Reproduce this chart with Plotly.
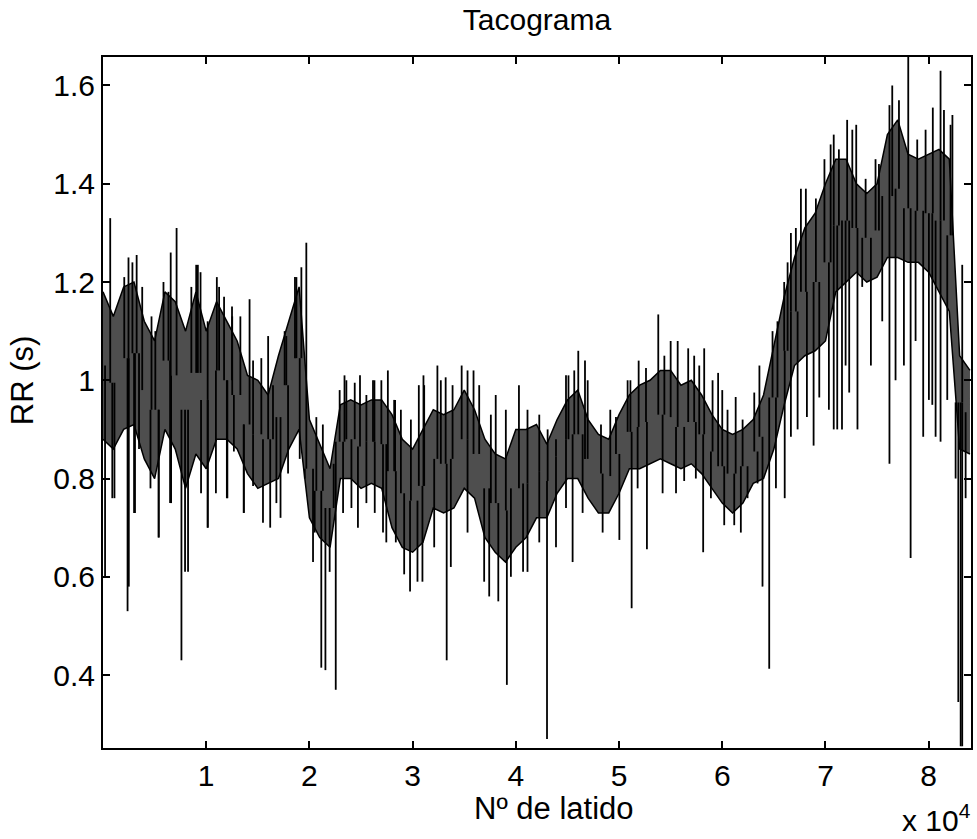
import plotly.graph_objects as go

# ---------------- data ----------------
# dense band of the tachogram, sampled every 1000 beats: upper and lower edge (s)
band_beats = [i * 1000 for i in range(85)]
band_hi = [1.18, 1.13, 1.19, 1.20, 1.12, 1.08, 1.18, 1.16, 1.10, 1.18,
           1.10, 1.16, 1.12, 1.08, 1.01, 1.00, 0.97, 1.05, 1.12, 1.19,
           0.92, 0.87, 0.82, 0.95, 0.96, 0.95, 0.96, 0.96, 0.93, 0.88,
           0.86, 0.90, 0.94, 0.93, 0.94, 0.98, 0.94, 0.88, 0.85, 0.84,
           0.90, 0.90, 0.91, 0.87, 0.92, 0.96, 0.98, 0.92, 0.89, 0.88,
           0.93, 0.97, 0.99, 1.00, 1.02, 1.02, 0.99, 1.00, 0.97, 0.93,
           0.90, 0.89, 0.90, 0.92, 0.97, 1.07, 1.17, 1.25, 1.31, 1.34,
           1.40, 1.45, 1.45, 1.40, 1.38, 1.40, 1.50, 1.53, 1.46, 1.45,
           1.46, 1.47, 1.45, 1.05, 1.02]
band_lo = [0.88, 0.86, 0.90, 0.91, 0.84, 0.80, 0.90, 0.86, 0.78, 0.85,
           0.82, 0.88, 0.88, 0.86, 0.81, 0.78, 0.79, 0.80, 0.86, 0.90,
           0.72, 0.68, 0.66, 0.80, 0.80, 0.78, 0.79, 0.78, 0.70, 0.66,
           0.65, 0.67, 0.74, 0.73, 0.74, 0.78, 0.76, 0.68, 0.65, 0.63,
           0.66, 0.68, 0.72, 0.72, 0.77, 0.80, 0.80, 0.76, 0.73, 0.73,
           0.77, 0.82, 0.82, 0.83, 0.84, 0.83, 0.82, 0.83, 0.81, 0.78,
           0.75, 0.73, 0.75, 0.79, 0.80, 0.86, 0.95, 1.03, 1.05, 1.06,
           1.08, 1.18, 1.20, 1.22, 1.20, 1.21, 1.25, 1.25, 1.24, 1.24,
           1.22, 1.18, 1.14, 0.86, 0.85]

# upward beats sticking out of the band (beat number, RR in s)
up_beats = [700, 2060, 2470, 2850, 3260, 3800, 4700, 5070, 5860, 6340, 6560, 7130,
            8560, 9030, 9190, 9450, 10140, 11030, 11250, 11730, 12500, 12520, 13310,
            14200, 14540, 15340, 16000, 16470, 17600, 17760, 18600, 18740, 19220, 19700,
            20670, 21300, 22350, 22930, 23400, 23580, 24390, 24900, 25520, 26160, 26300,
            26970, 27600,
            28210, 28300, 28860, 29830, 30600, 31050, 31120, 32400, 32730, 33200, 33870,
            34750, 35320, 35900, 36450, 37580, 38050, 39030, 40300, 41130,
            42270, 43080, 43890, 44860, 45100, 45660, 46050, 46700, 46960, 48250, 49150,
            49700, 50830, 51100, 51900, 52610, 53800, 54390, 55000, 55680,
            56700, 57280, 57770, 58250, 59060, 59600, 60000, 60510, 61300, 61970, 63100,
            63600, 64870, 65350, 66000, 66330, 66650, 67130, 67620, 68100, 69070, 69900,
            70500, 70800, 71300, 72100, 72600, 72980, 73890, 74850, 75180, 76200, 76470,
            77120, 78020, 78890, 79700, 80400, 81150, 81480, 82120, 82300, 83250]
up_rr = [1.33, 1.21, 1.25, 1.24, 1.255, 1.19, 1.13, 1.10, 1.20, 1.18, 1.26, 1.31,
         1.19, 1.235, 1.235, 1.22, 1.12, 1.21, 1.19, 1.17, 1.15, 1.13, 1.13,
         1.165, 1.04, 1.045, 1.09, 0.99, 1.10, 1.09, 1.21, 1.21, 1.23, 1.28,
         0.925, 0.91, 0.83, 0.98, 1.01, 1.00, 0.995, 1.01, 0.97, 1.00, 1.00,
         1.00, 1.02,
         0.96, 0.96, 0.94, 0.92, 0.99, 1.01, 0.99, 1.03, 1.00, 1.006, 0.99,
         1.03, 1.02, 1.02, 0.99, 0.93, 0.97, 0.94, 0.99, 0.94,
         0.93, 0.90, 0.88, 1.01, 1.01, 1.02, 1.06, 1.04, 1.00, 0.91, 0.94,
         0.925, 1.00, 1.00, 1.04, 1.025, 1.134, 1.05, 1.08, 1.08,
         1.065, 1.05, 1.03, 1.065, 1.00, 1.015, 0.98, 0.94, 0.966, 0.92, 0.975,
         1.03, 1.10, 1.12, 1.20, 1.24, 1.30, 1.31, 1.39, 1.39, 1.37, 1.45,
         1.48, 1.50, 1.47, 1.53, 1.51, 1.52, 1.41, 1.45, 1.44, 1.56, 1.60,
         1.57, 1.658, 1.49, 1.51, 1.555, 1.63, 1.55, 1.52, 1.54, 1.235]

# downward beats sticking out of the band (beat number, RR in s)
down_beats = [200, 900, 1110, 2380, 2500, 3010, 3100, 3490, 4600, 5390, 5400, 6500,
              6600, 7600, 7950, 8240, 9500, 10140, 10150, 10940, 12000, 12050, 12680,
              13630, 13650,
              14540, 15500, 16200, 16800, 17200, 17930, 19060, 19550, 20350, 20510, 21150,
              21550, 21960, 22550, 23260, 24070, 24700, 25520, 26330, 27130, 27450,
              28370, 29180, 29750, 30470, 30950, 32090, 33300, 33700, 35320, 36930, 37420,
              38300, 39130, 39520, 40700, 41130,
              42270, 43020, 43890, 44860, 45500, 46470, 48410, 50030, 51220, 51800, 52700,
              54220, 55520,
              56310, 57440, 58150, 58900, 60190, 61160, 61800, 62450, 63420, 63900, 64550,
              65200, 66050, 66650, 67300, 68200, 68850, 69400,
              70330, 70800, 71140, 71600, 71950, 72300, 73100, 73560, 74400, 75500, 76200,
              76790, 77600, 78250, 78730, 79470, 80020, 80350, 80670, 81150, 81800, 82610,
              82870, 83100, 83250, 83580]
down_rr = [0.60, 0.76, 0.76, 0.53, 0.58, 0.73, 0.73, 0.86, 0.78, 0.68, 0.68, 0.75,
           0.75, 0.43, 0.61, 0.61, 0.77, 0.70, 0.70, 0.77, 0.76, 0.76, 0.855,
           0.73, 0.73,
           0.785, 0.71, 0.70, 0.75, 0.72, 0.81, 0.84, 0.80, 0.63, 0.69, 0.415,
           0.41, 0.61, 0.37, 0.73, 0.74, 0.70, 0.75, 0.73, 0.69, 0.67,
           0.67, 0.605, 0.57, 0.59, 0.59, 0.66, 0.43, 0.62, 0.69, 0.59, 0.56,
           0.55, 0.38, 0.60, 0.61, 0.61,
           0.67, 0.27, 0.66, 0.74, 0.63, 0.73, 0.69, 0.675, 0.536, 0.78, 0.656,
           0.77, 0.77,
           0.795, 0.80, 0.65, 0.76, 0.705, 0.705, 0.69, 0.76, 0.79, 0.58, 0.413,
           0.78, 0.76, 0.885, 0.90, 0.925, 0.867, 0.965,
           0.94, 0.90, 0.90, 0.90, 1.03, 0.975, 0.90, 1.19, 1.03, 1.12, 0.83,
           1.00, 1.03, 0.638, 1.08, 0.885, 0.96, 0.95, 0.885, 0.875, 0.96, 0.80,
           0.345, 0.255, 0.255, 0.76]

x_tick_vals = [10000, 20000, 30000, 40000, 50000, 60000, 70000, 80000]
x_tick_text = ["1", "2", "3", "4", "5", "6", "7", "8"]
y_tick_vals = [0.4, 0.6, 0.8, 1.0, 1.2, 1.4, 1.6]
y_tick_text = ["0.4", "0.6", "0.8", "1", "1.2", "1.4", "1.6"]

# ---------------- figure ----------------
W, H = 977, 839
L, R, T, B = 103, 4, 57, 91
FONT = "Liberation Sans, Arial, Helvetica, sans-serif"


def band_mid(beat):
    i = min(max(int(round(beat / 1000.0)), 0), len(band_beats) - 1)
    return 0.5 * (band_hi[i] + band_lo[i])


sx, sy = [], []
for b, v in zip(up_beats, up_rr):
    sx += [b, b, None]
    sy += [band_mid(b), v, None]
for b, v in zip(down_beats, down_rr):
    sx += [b, b, None]
    sy += [band_mid(b), v, None]

fig = go.Figure()
fig.add_trace(go.Scatter(x=band_beats, y=band_lo, mode="lines",
                         line=dict(color="black", width=1.5),
                         hoverinfo="skip", showlegend=False))
fig.add_trace(go.Scatter(x=band_beats, y=band_hi, mode="lines",
                         line=dict(color="black", width=1.5),
                         fill="tonexty", fillcolor="#4e4e4e",
                         hoverinfo="skip", showlegend=False))
fig.add_trace(go.Scatter(x=sx, y=sy, mode="lines",
                         line=dict(color="black", width=1.8),
                         hoverinfo="skip", showlegend=False))

axis_common = dict(showgrid=False, zeroline=False, showline=True, linecolor="black",
                   linewidth=2, mirror="allticks", ticks="inside", ticklen=7,
                   tickwidth=1.5, tickcolor="black",
                   tickfont=dict(family=FONT, size=30, color="black"))

fig.update_xaxes(range=[0, 84100], tickmode="array", tickvals=x_tick_vals,
                 ticktext=x_tick_text, **axis_common)
fig.update_yaxes(range=[0.2515, 1.658], tickmode="array", tickvals=y_tick_vals,
                 ticktext=y_tick_text, **axis_common)

pw, ph = W - L - R, H - T - B


def px(xp):
    return (xp - L) / pw


def py(yp):
    return 1 - (yp - T) / ph


fig.update_layout(
    width=W, height=H,
    margin=dict(l=L, r=R, t=T, b=B, pad=0),
    paper_bgcolor="white", plot_bgcolor="white",
    font=dict(family=FONT, color="black"),
    title=dict(text="Tacograma", x=0.5, xref="paper", xanchor="center",
               y=1 - 19 / H, yref="container", yanchor="middle",
               font=dict(family=FONT, size=30, color="black")),
    annotations=[
        dict(text="Nº de latido", xref="paper", yref="paper", x=px(555), y=py(808),
             xanchor="center", yanchor="middle", showarrow=False,
             font=dict(family=FONT, size=31, color="black")),
        dict(text="RR (s)", xref="paper", yref="paper", x=px(22), y=py(380),
             xanchor="center", yanchor="middle", textangle=-90, showarrow=False,
             font=dict(family=FONT, size=31, color="black")),
        dict(text="x 10<sup>4</sup>", xref="paper", yref="paper", x=px(975), y=py(839),
             xanchor="right", yanchor="bottom", showarrow=False,
             font=dict(family=FONT, size=30, color="black")),
    ],
)

fig.write_html("out.html")
